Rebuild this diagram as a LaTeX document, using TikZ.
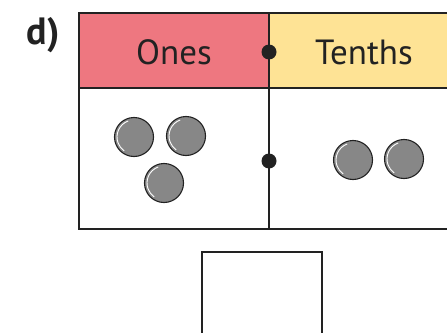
\documentclass[tikz,border=0pt]{standalone}
\usepackage{fontspec}
\setmainfont{PT Sans}
\usetikzlibrary{calc}
\definecolor{onespink}{HTML}{EE7780}
\definecolor{tenthsyellow}{HTML}{FEE395}
\definecolor{counter}{HTML}{878787}
\definecolor{edge}{HTML}{222222}
\tikzset{
  gridline/.style={draw=edge, line width=2.8pt},
  headtext/.style={font=\fontsize{35}{40}\selectfont, text=edge, inner sep=0pt},
  counterdisc/.style={circle, fill=counter, draw=edge, line width=1.1pt, minimum size=39pt, inner sep=0pt},
  placedot/.style={circle, fill=edge, minimum size=15pt, inner sep=0pt},
}
\begin{document}
\begin{tikzpicture}[x=1pt,y=-1pt]
\useasboundingbox (0,0) rectangle (447,332);
\clip (0,0) rectangle (447,332);
\fill[white] (0,0) rectangle (447,332);
% header fills
\fill[onespink] (79,13) rectangle (269,88);
\fill[tenthsyellow] (269,13) rectangle (470,88);
% grid
\draw[gridline] (79,13) rectangle (470,229);
\draw[gridline] (79,88) -- (470,88);
\draw[gridline] (269,13) -- (269,229);
% labels
\node[font=\fontsize{38}{44}\selectfont\bfseries, text=edge, inner sep=0pt] (lbl) at (43,35) {d)};
\node[headtext] (ones) at (174,52) {Ones};
\node[headtext] (tenths) at (364,52) {Tenths};
% place dots
\node[placedot] (dot1) at (269,52) {};
\node[placedot] (dot2) at (269,161) {};
% counters
\foreach \n/\cx/\cy in {c1/134/137, c2/186/136, c3/164/183, c4/353/160, c5/404/159}{
  \node[counterdisc] (\n) at (\cx,\cy) {};
  \draw[white, line width=0.9pt] ($(\cx,\cy)+(-110:17)$) arc[start angle=-110, end angle=-235, radius=17];
}
% answer box
\draw[draw=edge, line width=2.2pt] (202,340) -- (202,252) -- (322,252) -- (322,340);
\end{tikzpicture}
\end{document}
